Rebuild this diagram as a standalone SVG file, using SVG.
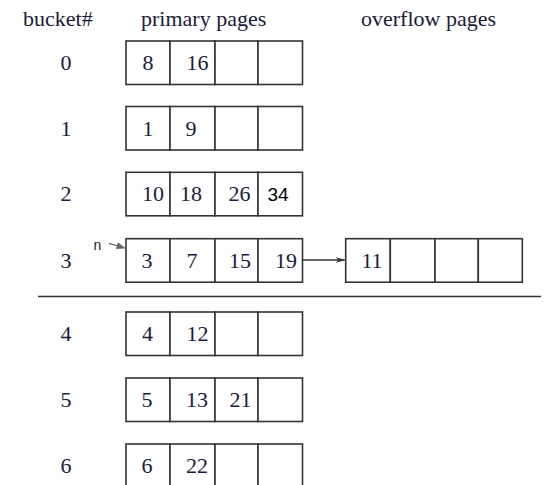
<svg xmlns="http://www.w3.org/2000/svg" width="544" height="485" viewBox="0 0 544 485">
<style>
.h{font-family:"Liberation Serif","Times New Roman",serif;font-size:22px;fill:#1a1a3a}
.t{font-family:"Liberation Serif","Times New Roman",serif;font-size:22px;fill:#1a1a3a;text-anchor:middle}
.s{font-family:"Liberation Sans",Arial,sans-serif;font-size:19px;fill:#000;text-anchor:middle}
.c{fill:#fff;stroke:#333;stroke-width:1.6}
.ln{stroke:#333;stroke-width:1.5;fill:none}
</style>
<defs>
<marker id="ah" markerWidth="10" markerHeight="8" refX="9" refY="4" orient="auto" markerUnits="userSpaceOnUse">
<path d="M0,1 L10,4 L0,7 L3,4 Z" fill="#333"/>
</marker>
<marker id="ag" markerWidth="9" markerHeight="8" refX="8" refY="4" orient="auto" markerUnits="userSpaceOnUse">
<path d="M0,0.5 L9,4 L0,7.5 Z" fill="#666"/>
</marker>
<g id="cells">
<rect class="c" x="126" y="0" width="44" height="43.5"/>
<rect class="c" x="170" y="0" width="45" height="43.5"/>
<rect class="c" x="215" y="0" width="43" height="43.5"/>
<rect class="c" x="258" y="0" width="44.5" height="43.5"/>
</g>
</defs>
<g id="headers">
<text class="h" x="23" y="26">bucket#</text>
<text class="h" x="141" y="26">primary pages</text>
<text class="h" x="361" y="26">overflow pages</text>
</g>
<g id="bucket0" transform="translate(0,41)">
<use href="#cells"/>
<text class="t" x="66" y="29">0</text>
<text class="t" x="148" y="29">8</text>
<text class="t" x="197.5" y="29">16</text>
</g>
<g id="bucket1" transform="translate(0,106.5)">
<use href="#cells"/>
<text class="t" x="66" y="29">1</text>
<text class="t" x="148" y="29">1</text>
<text class="t" x="191" y="29">9</text>
</g>
<g id="bucket2" transform="translate(0,172.3)">
<use href="#cells"/>
<text class="t" x="66" y="29">2</text>
<text class="t" x="153" y="29">10</text>
<text class="t" x="191" y="29">18</text>
<text class="t" x="239.5" y="29">26</text>
<text class="s" x="278" y="29">34</text>
</g>
<g id="bucket3" transform="translate(0,238.7)">
<use href="#cells"/>
<text class="t" x="66" y="29">3</text>
<text class="t" x="147" y="29">3</text>
<text class="t" x="192" y="29">7</text>
<text class="t" x="240" y="29">15</text>
<text class="t" x="286" y="29">19</text>
</g>
<g id="overflow3" transform="translate(0,238.7)">
<rect class="c" x="345.7" y="0" width="44.6" height="43.5"/>
<rect class="c" x="390.3" y="0" width="44.7" height="43.5"/>
<rect class="c" x="435" y="0" width="43.3" height="43.5"/>
<rect class="c" x="478.3" y="0" width="44" height="43.5"/>
<text class="t" x="372" y="29">11</text>
</g>
<g id="next-pointer">
<text x="93.5" y="249.5" style="font-family:'Liberation Sans',Arial,sans-serif;font-size:14px;fill:#1a1a3a">n</text>
</g>
<g id="bucket4" transform="translate(0,312)">
<use href="#cells"/>
<text class="t" x="66" y="29">4</text>
<text class="t" x="147.5" y="29">4</text>
<text class="t" x="197.5" y="29">12</text>
</g>
<g id="bucket5" transform="translate(0,378)">
<use href="#cells"/>
<text class="t" x="66" y="29">5</text>
<text class="t" x="147" y="29">5</text>
<text class="t" x="197" y="29">13</text>
<text class="t" x="240.5" y="29">21</text>
</g>
<g id="bucket6" transform="translate(0,444)">
<use href="#cells"/>
<text class="t" x="66" y="29">6</text>
<text class="t" x="147" y="29">6</text>
<text class="t" x="197" y="29">22</text>
</g>
<g id="connectors">
<line class="ln" x1="38" y1="296.5" x2="541" y2="296.5"/>
<line class="ln" x1="302.5" y1="260" x2="344.5" y2="260" marker-end="url(#ah)"/>
<line x1="109" y1="243.3" x2="124.5" y2="248" stroke="#666" stroke-width="1.3" marker-end="url(#ag)"/>
</g>
</svg>
